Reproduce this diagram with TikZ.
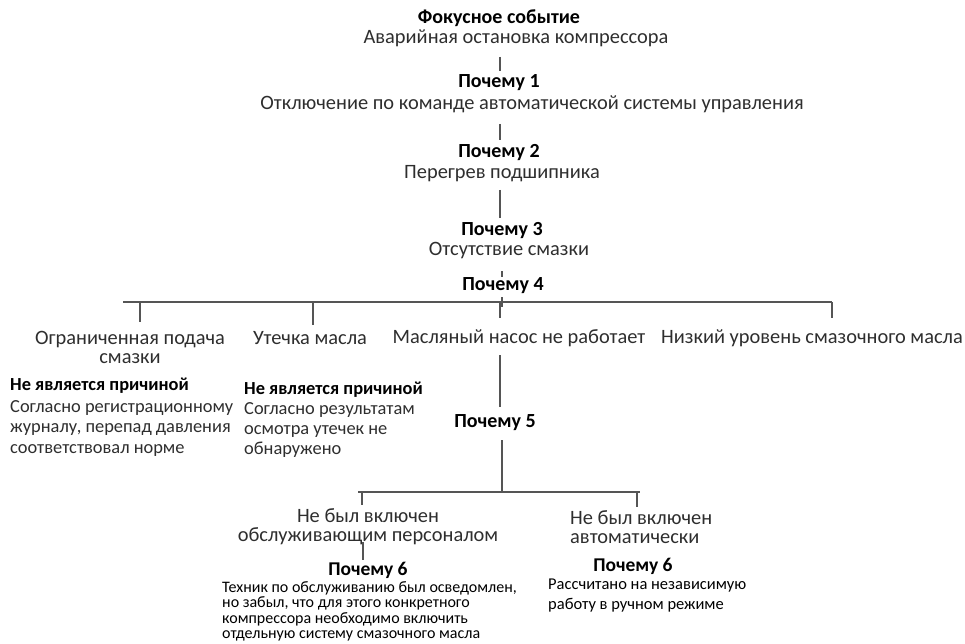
\documentclass[tikz,border=0pt]{standalone}
\usepackage{fontspec}
\setmainfont{Carlito}
\definecolor{txtc}{HTML}{2E2E2E}
\definecolor{lnc}{HTML}{555555}
\begin{document}
\begin{tikzpicture}[x=1pt,y=-1pt,
  txt/.style={inner sep=0pt,text=txtc,font=\fontsize{20.4}{22}\selectfont},
  hd/.style={inner sep=0pt,text=black,font=\fontsize{20}{22}\selectfont\bfseries},
  sm/.style={inner sep=0pt,text=black,align=left},
  ln/.style={draw=lnc,line width=1.1pt}]
\useasboundingbox (0,0) rectangle (965,644);
% top chain
\node[hd] (focus) at (499,18) {Фокусное событие};
\node[txt] (ev) at (516,38) {Аварийная остановка компрессора};
\node[hd] (w1) at (499,83) {Почему 1};
\node[txt] (t1) at (532,104) {Отключение по команде автоматической системы управления};
\node[hd] (w2) at (499,153) {Почему 2};
\node[txt] (t2) at (502,174) {Перегрев подшипника};
\node[hd] (w3) at (502,231) {Почему 3};
\node[txt] (t3) at (509,251) {Отсутствие смазки};
\node[hd] (w4) at (503,286) {Почему 4};
\coordinate (c1a) at (500,57); \coordinate (c1b) at (500,71);
\coordinate (c2a) at (500,124); \coordinate (c2b) at (500,140);
\coordinate (c3a) at (500,190); \coordinate (c3b) at (500,218);
\coordinate (c4a) at (502,271); \coordinate (c4b) at (502,277);
\draw[ln] (c1a) -- (c1b);
\draw[ln] (c2a) -- (c2b);
\draw[ln] (c3a) -- (c3b);
\draw[ln] (c4a) -- (c4b);
% level 4 bar
\coordinate (barL) at (123,302); \coordinate (barR) at (832,302);
\coordinate (tk1) at (502,297); \coordinate (tk2) at (502,307);
\draw[ln] (barL) -- (barR);
\draw[ln] (tk1) -- (tk2);
\node[txt,align=center,font=\fontsize{20.4}{19}\selectfont] (a1) at (130,347) {Ограниченная подача\\смазки};
\node[txt] (a2) at (310,338) {Утечка масла};
\node[txt] (a3) at (519,338) {Масляный насос не работает};
\node[txt] (a4) at (812,338) {Низкий уровень смазочного масла};
\coordinate (d1a) at (140,302); \coordinate (d1b) at (140,322);
\coordinate (d2a) at (313,302); \coordinate (d2b) at (313,325);
\coordinate (d3a) at (500,302); \coordinate (d3b) at (500,318);
\coordinate (d4a) at (832,302); \coordinate (d4b) at (832,318);
\draw[ln] (d1a) -- (d1b);
\draw[ln] (d2a) -- (d2b);
\draw[ln] (d3a) -- (d3b);
\draw[ln] (d4a) -- (d4b);
% not causes
\node[hd,anchor=west,font=\fontsize{18.4}{20}\selectfont\bfseries] (n1h) at (10,386) {Не является причиной};
\node[txt,anchor=north west,align=left,font=\fontsize{18.4}{20.5}\selectfont] (n1t) at (10,400) {Согласно регистрационному\\журналу, перепад давления\\соответствовал норме};
\node[hd,anchor=west,font=\fontsize{18.4}{20}\selectfont\bfseries] (n2h) at (244,390) {Не является причиной};
\node[txt,anchor=north west,align=left,font=\fontsize{18.4}{20}\selectfont] (n2t) at (244,402) {Согласно результатам\\осмотра утечек не\\обнаружено};
% why 5
\node[hd] (w5) at (495,423) {Почему 5};
\coordinate (c5a) at (500,355); \coordinate (c5b) at (500,407);
\draw[ln] (c5a) -- (c5b);
\coordinate (c6a) at (502,440); \coordinate (c6b) at (502,492);
\draw[ln] (c6a) -- (c6b);
\coordinate (bar2L) at (358,492); \coordinate (bar2R) at (640,492);
\draw[ln] (bar2L) -- (bar2R);
\coordinate (e1a) at (362,492); \coordinate (e1b) at (362,505);
\coordinate (e2a) at (637,492); \coordinate (e2b) at (637,507);
\draw[ln] (e1a) -- (e1b);
\draw[ln] (e2a) -- (e2b);
\node[txt,align=center,font=\fontsize{20.4}{19}\selectfont] (b1) at (368,527) {Не был включен\\обслуживающим персоналом};
\node[txt,anchor=west,align=left,font=\fontsize{20.4}{19}\selectfont] (b2) at (570,527) {Не был включен\\автоматически};
% why 6
\node[hd,font=\fontsize{19.5}{22}\selectfont\bfseries] (w6a) at (368,570) {Почему 6};
\node[hd,font=\fontsize{19.5}{22}\selectfont\bfseries] (w6b) at (633,566) {Почему 6};
\coordinate (f1a) at (363,542); \coordinate (f1b) at (363,560);
\draw[ln] (f1a) -- (f1b);
\node[sm,anchor=north west,font=\fontsize{16}{15.5}\selectfont] (s6a) at (222,581) {Техник по обслуживанию был осведомлен,\\но забыл, что для этого конкретного\\компрессора необходимо включить\\отдельную систему смазочного масла};
\node[sm,anchor=north west,font=\fontsize{16.5}{20}\selectfont] (s6b) at (548,579) {Рассчитано на независимую\\работу в ручном режиме};
\end{tikzpicture}
\end{document}
